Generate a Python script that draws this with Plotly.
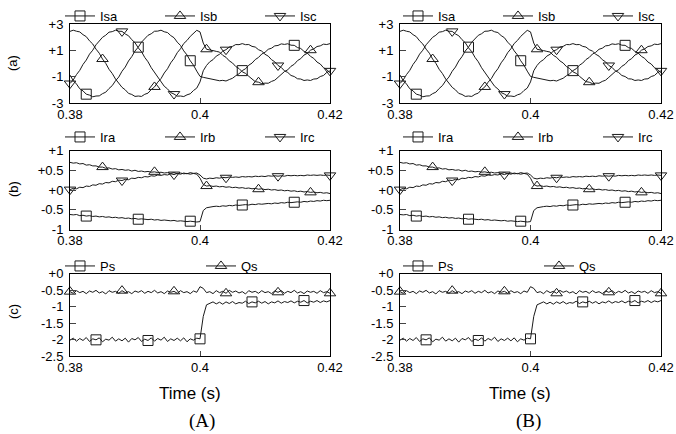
import plotly.graph_objects as go

# time grid (s), 0.5 ms sampling
time_s = [round(0.38 + 0.0005 * i, 4) for i in range(81)]

# (a) stator currents
isa = [-0.88,-1.30,-1.56,-1.92,-2.08,-2.33,-2.40,-2.53,-2.47,-2.46,-2.29,-2.18,-1.90,-1.68,-1.31,-1.03,-0.59,-0.27,0.19,0.52,
       0.95,1.24,1.62,1.85,2.14,2.26,2.45,2.46,2.53,2.41,2.35,2.12,1.96,1.62,1.37,0.96,0.65,0.21,-0.13,-0.58,
       -0.98,-1.05,-1.10,-1.18,-1.23,-1.27,-1.31,-1.28,-1.33,-1.22,-1.12,-0.93,-0.78,-0.54,-0.40,-0.13,0.03,0.30,0.46,0.72,
       0.85,1.08,1.16,1.34,1.37,1.49,1.45,1.50,1.39,1.38,1.21,1.14,0.92,0.80,0.54,0.39,0.11,-0.04,-0.32,-0.46,-0.71]
isb = [2.44,2.53,2.45,2.40,2.19,2.04,1.72,1.48,1.09,0.78,0.34,0.01,-0.44,-0.76,-1.18,-1.46,-1.81,-2.00,-2.27,-2.35,
       -2.50,-2.47,-2.50,-2.34,-2.25,-1.98,-1.78,-1.42,-1.15,-0.72,-0.40,0.05,0.38,0.82,1.12,1.52,1.75,2.06,2.27,2.52,
       2.40,1.55,1.08,1.05,0.98,0.92,0.87,0.62,0.47,0.20,0.04,-0.23,-0.38,-0.63,-0.75,-0.97,-1.18,-1.38,-1.42,-1.53,
       -1.49,-1.50,-1.36,-1.27,-1.05,-0.84,-0.61,-0.48,-0.21,-0.06,0.22,0.37,0.64,0.77,1.01,1.11,1.29,1.34,1.47,1.44,1.51]
isc = [-1.52,-1.25,-0.84,-0.52,-0.07,0.26,0.71,1.01,1.42,1.67,1.99,2.15,2.38,2.42,2.53,2.45,2.44,2.24,2.11,1.81,
       1.58,1.19,0.90,0.46,0.13,-0.32,-0.65,-1.07,-1.36,-1.73,-1.93,-2.21,-2.32,-2.48,-2.47,-2.51,-2.38,-2.30,-2.05,-1.87,
       -1.40,-0.55,-0.15,0.13,0.29,0.56,0.70,0.94,1.05,1.25,1.30,1.44,1.43,1.51,1.43,1.44,1.30,1.25,1.05,0.94,
       0.70,0.56,0.29,0.13,-0.15,-0.30,-0.56,-0.68,-0.91,-0.99,-1.16,-1.18,-1.29,-1.25,-1.29,-1.18,-1.16,-0.99,-0.91,-0.68,-0.56]

# (b) rotor currents
ira = [-0.62,-0.63,-0.62,-0.65,-0.64,-0.66,-0.65,-0.67,-0.66,-0.68,-0.67,-0.69,-0.68,-0.70,-0.69,-0.71,-0.70,-0.72,-0.71,-0.73,
       -0.72,-0.74,-0.73,-0.74,-0.75,-0.74,-0.76,-0.75,-0.77,-0.76,-0.77,-0.78,-0.77,-0.79,-0.78,-0.79,-0.80,-0.79,-0.80,-0.81,
       -0.80,-0.52,-0.45,-0.43,-0.42,-0.41,-0.42,-0.40,-0.41,-0.39,-0.40,-0.38,-0.39,-0.38,-0.37,-0.38,-0.36,-0.37,-0.35,-0.36,
       -0.35,-0.34,-0.35,-0.33,-0.34,-0.32,-0.33,-0.31,-0.32,-0.31,-0.30,-0.31,-0.29,-0.30,-0.28,-0.29,-0.27,-0.28,-0.26,-0.27,-0.26]
irb = [0.70,0.68,0.69,0.66,0.67,0.63,0.64,0.61,0.61,0.58,0.58,0.55,0.56,0.53,0.54,0.51,0.52,0.50,0.51,0.48,
       0.50,0.47,0.48,0.46,0.47,0.45,0.46,0.44,0.45,0.43,0.44,0.42,0.44,0.41,0.43,0.41,0.42,0.40,0.42,0.40,
       0.30,0.14,0.10,0.11,0.09,0.10,0.08,0.09,0.07,0.08,0.06,0.07,0.05,0.06,0.04,0.05,0.03,0.04,0.02,0.03,
       0.01,0.02,0.00,0.01,-0.01,0.00,-0.02,-0.01,-0.03,-0.02,-0.04,-0.03,-0.05,-0.04,-0.06,-0.05,-0.07,-0.06,-0.08,-0.07,-0.09]
irc = [0.01,0.04,0.03,0.07,0.06,0.10,0.09,0.13,0.12,0.16,0.15,0.19,0.18,0.22,0.21,0.25,0.24,0.27,0.26,0.30,
       0.29,0.32,0.31,0.34,0.33,0.36,0.35,0.38,0.37,0.39,0.38,0.41,0.39,0.42,0.40,0.43,0.41,0.44,0.42,0.43,
       0.38,0.30,0.28,0.30,0.29,0.31,0.30,0.32,0.31,0.33,0.32,0.33,0.32,0.34,0.33,0.34,0.33,0.35,0.34,0.35,
       0.34,0.36,0.35,0.36,0.35,0.36,0.35,0.37,0.36,0.37,0.36,0.37,0.36,0.38,0.37,0.38,0.37,0.38,0.37,0.38,0.37]

# (c) stator active / reactive power
ps = [-2.02,-1.96,-2.05,-1.97,-2.03,-1.94,-2.06,-1.98,-2.01,-1.95,-2.07,-1.99,-2.02,-1.93,-2.05,-1.98,-2.04,-1.96,-2.08,-1.97,
      -2.01,-1.94,-2.06,-1.99,-2.03,-1.95,-2.05,-1.97,-2.02,-1.93,-2.06,-1.98,-2.03,-1.96,-2.04,-1.95,-2.07,-1.98,-2.02,-1.96,
      -1.98,-1.30,-0.95,-0.90,-0.86,-0.92,-0.87,-0.93,-0.86,-0.91,-0.85,-0.92,-0.88,-0.90,-0.84,-0.91,-0.86,-0.89,-0.84,-0.90,
      -0.85,-0.92,-0.86,-0.89,-0.83,-0.90,-0.85,-0.88,-0.83,-0.89,-0.84,-0.87,-0.82,-0.89,-0.84,-0.87,-0.82,-0.88,-0.83,-0.86,-0.82]
qs = [-0.55,-0.60,-0.52,-0.58,-0.54,-0.61,-0.53,-0.57,-0.51,-0.59,-0.55,-0.62,-0.52,-0.57,-0.54,-0.60,-0.52,-0.58,-0.55,-0.61,
      -0.53,-0.57,-0.52,-0.60,-0.54,-0.58,-0.51,-0.59,-0.55,-0.61,-0.53,-0.57,-0.54,-0.60,-0.52,-0.58,-0.55,-0.61,-0.53,-0.57,
      -0.40,-0.45,-0.58,-0.55,-0.61,-0.52,-0.58,-0.54,-0.60,-0.51,-0.57,-0.53,-0.59,-0.55,-0.62,-0.52,-0.57,-0.54,-0.60,-0.52,
      -0.58,-0.55,-0.61,-0.53,-0.57,-0.52,-0.60,-0.54,-0.58,-0.51,-0.59,-0.55,-0.61,-0.53,-0.57,-0.54,-0.60,-0.52,-0.58,-0.55,-0.60]

for arr in (isa, isb, isc, ira, irb, irc, ps, qs):
    assert len(arr) == len(time_s), len(arr)

x_ticks = [0.38, 0.4, 0.42]
x_ticktext = ["0.38", "0.4", "0.42"]
ya_ticks = [3, 1, -1, -3];            ya_text = ["+3", "+1", "-1", "-3"]
yb_ticks = [1, 0.5, 0, -0.5, -1];     yb_text = ["+1", "+0.5", "+0", "-0.5", "-1"]
yc_ticks = [0, -0.5, -1, -1.5, -2, -2.5]; yc_text = ["+0", "-0.5", "-1", "-1.5", "-2", "-2.5"]

W, H = 676, 434
LINE = "#1a1a1a"
FONT = "Liberation Sans, Arial, sans-serif"

def px_x(p): return p / W
def px_y(p): return 1 - p / H

col_x = [(70, 330), (400, 661)]
row_y = [(24, 103), (150.5, 229.5), (273.5, 356)]
row_range = [[-3, 3], [-1, 1], [-2.5, 0]]
row_ticks = [(ya_ticks, ya_text), (yb_ticks, yb_text), (yc_ticks, yc_text)]

panels = [
    [("Isa", isa, "square-open", 5), ("Isb", isb, "triangle-up-open", 10), ("Isc", isc, "triangle-down-open", 0)],
    [("Ira", ira, "square-open", 5), ("Irb", irb, "triangle-up-open", 10), ("Irc", irc, "triangle-down-open", 0)],
    [("Ps", ps, "square-open", 8), ("Qs", qs, "triangle-up-open", 0)],
]
legend_y_px = [16, 137, 266]
legend_x_px = [[60, 60, 60], [398, 398, 398]]
entry_w = [95, 95, 136]

fig = go.Figure()
layout = dict(width=W, height=H, margin=dict(l=0, r=0, t=0, b=0, autoexpand=False),
              paper_bgcolor="white", plot_bgcolor="white", showlegend=True,
              font=dict(family=FONT, size=13, color="black"))
annotations = []

k = 0
for c in range(2):
    for r in range(3):
        k += 1
        xa = "x" if k == 1 else f"x{k}"
        ya = "y" if k == 1 else f"y{k}"
        lg = "legend" if k == 1 else f"legend{k}"
        x0, x1 = col_x[c]
        y0, y1 = row_y[r]
        layout["xaxis" if k == 1 else f"xaxis{k}"] = dict(
            domain=[px_x(x0), px_x(x1)], range=[0.38, 0.42], anchor=ya, automargin=False,
            tickvals=x_ticks, ticktext=x_ticktext, ticks="inside", ticklen=5,
            ticklabelstandoff=-1,
            showline=True, linecolor="black", linewidth=1, mirror=True,
            showgrid=False, zeroline=False, tickfont=dict(size=13, family=FONT))
        tv, tt = row_ticks[r]
        layout["yaxis" if k == 1 else f"yaxis{k}"] = dict(
            domain=[px_y(y1), px_y(y0)], range=row_range[r], anchor=xa, automargin=False,
            tickvals=tv, ticktext=tt, ticks="inside", ticklen=6, ticklabelstandoff=3,
            showline=True, linecolor="black", linewidth=1, mirror=True,
            showgrid=False, zeroline=False, tickfont=dict(size=13, family=FONT))
        layout[lg] = dict(orientation="h", x=px_x(legend_x_px[c][r]), y=px_y(legend_y_px[r]),
                          xanchor="left", yanchor="middle", entrywidth=entry_w[r] - 40,
                          entrywidthmode="pixels", itemwidth=30,
                          bgcolor="rgba(0,0,0,0)", font=dict(size=13, family=FONT),
                          tracegroupgap=0, borderwidth=0)
        for name, arr, sym, off in panels[r]:
            fig.add_trace(go.Scatter(x=time_s, y=arr, mode="lines", xaxis=xa, yaxis=ya,
                                     line=dict(color=LINE, width=1), showlegend=False,
                                     hoverinfo="skip"))
            idx = list(range(off, len(time_s), 16))
            fig.add_trace(go.Scatter(x=[time_s[i] for i in idx], y=[arr[i] for i in idx],
                                     mode="markers", xaxis=xa, yaxis=ya, showlegend=False,
                                     marker=dict(symbol=sym, size=10, color=LINE,
                                                 line=dict(width=1, color=LINE)),
                                     hoverinfo="skip", cliponaxis=False))
            fig.add_trace(go.Scatter(x=[None], y=[None], mode="lines+markers", name=name,
                                     xaxis=xa, yaxis=ya, legend=lg,
                                     line=dict(color=LINE, width=1),
                                     marker=dict(symbol=sym, size=10, color=LINE,
                                                 line=dict(width=1, color=LINE))))

# row labels on the left column
row_label_y = [63, 189, 312]
for lbl, yy in zip(["(a)", "(b)", "(c)"], row_label_y):
    annotations.append(dict(text=lbl, x=px_x(13), y=px_y(yy), xref="paper", yref="paper",
                            xanchor="center", yanchor="middle",
                            showarrow=False, textangle=-90, font=dict(size=13, family=FONT)))
for cx_t, cx_l, lab in [(190, 202, "(A)"), (520, 528, "(B)")]:
    annotations.append(dict(text="Time (s)", x=px_x(cx_t), y=px_y(393), xref="paper", yref="paper",
                            xanchor="center", yanchor="middle",
                            showarrow=False, font=dict(size=17, family=FONT)))
    annotations.append(dict(text=lab, x=px_x(cx_l), y=px_y(421), xref="paper", yref="paper",
                            xanchor="center", yanchor="middle",
                            showarrow=False, font=dict(size=19, family="Liberation Serif, Times New Roman, serif")))
layout["annotations"] = annotations
fig.update_layout(**layout)
fig.write_html("out.html", config={"displayModeBar": False},
               post_script="document.body.style.margin='0';document.body.style.padding='0';")
